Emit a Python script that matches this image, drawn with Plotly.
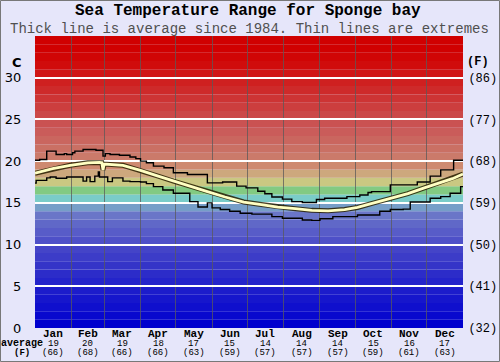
import plotly.graph_objects as go

# ---------------- data ----------------
months = ["Jan", "Feb", "Mar", "Apr", "May", "Jun", "Jul", "Aug", "Sep", "Oct", "Nov", "Dec"]
month_days = [31, 28, 31, 30, 31, 30, 31, 31, 30, 31, 30, 31]
avg_c_labels = [19, 20, 19, 18, 17, 15, 14, 14, 14, 15, 16, 17]
avg_f_labels = [66, 68, 66, 66, 63, 59, 57, 57, 57, 59, 61, 63]

y_ticks_c = [0, 5, 10, 15, 20, 25, 30]
y_ticks_f = ["(32)", "(41)", "(50)", "(59)", "(68)", "(77)", "(86)"]

# max extreme (day of year where value starts, value in C)
max_day = [0, 4, 10, 18, 25, 27, 32, 34, 41, 52, 58, 60, 64, 72, 81, 86, 90, 95, 101, 110,
           118, 130, 147, 160, 172, 180, 190, 196, 202, 211, 219, 228, 240, 247, 266, 277,
           284, 287, 303, 326, 337, 346, 357, 365]
max_val = [20.1, 20.2, 21.2, 20.8, 20.9, 20.8, 21.0, 21.2, 21.4, 21.3, 20.6, 20.9, 20.8, 20.7,
           20.5, 20.3, 20.0, 19.8, 19.4, 19.2, 18.6, 18.4, 17.4, 17.5, 17.0, 16.8, 16.4, 16.1,
           15.7, 15.45, 15.15, 15.05, 15.4, 15.55, 15.75, 15.95, 16.25, 16.35, 17.15, 17.5,
           18.2, 18.95, 20.1, 20.1]

# min extreme
min_day = [0, 1, 10, 13, 18, 27, 41, 44, 47, 51, 54, 55, 62, 66, 75, 81, 90, 95, 101, 109,
           118, 132, 139, 147, 151, 158, 166, 175, 185, 202, 211, 228, 236, 243, 254, 275,
           294, 303, 314, 320, 337, 346, 354, 363, 365]
min_val = [17.36, 17.7, 18.0, 18.1, 17.95, 18.1, 17.6, 18.1, 17.55, 18.2, 18.7, 18.1, 17.55,
           18.0, 17.6, 17.55, 17.5, 17.3, 16.95, 16.55, 16.15, 15.15, 14.5, 15.0, 14.4, 14.2,
           14.0, 13.75, 13.65, 13.35, 13.15, 12.95, 12.9, 13.1, 13.35, 13.55, 14.0, 14.2,
           14.25, 15.1, 15.55, 15.75, 16.15, 16.95, 16.95]

# average
avg_day = [0, 15, 30, 45, 55, 57, 58, 59, 75, 90, 105, 118, 133, 147, 162, 178, 193, 207,
           222, 236, 250, 264, 275, 289, 303, 318, 332, 345, 356, 365]
avg_val = [18.55, 19.1, 19.5, 19.8, 19.85, 19.8, 18.95, 19.65, 19.5, 18.9, 18.2, 17.6, 17.0,
           16.35, 15.7, 15.1, 14.8, 14.5, 14.3, 14.1, 14.05, 14.2, 14.45, 15.0, 15.5, 16.1,
           16.8, 17.4, 17.9, 18.45]

# ---------------- style ----------------
band_colors = [
    (0, 0, 206), (8, 8, 206), (15, 15, 205), (22, 22, 204), (28, 28, 203),
    (36, 36, 202), (44, 44, 201), (52, 52, 200), (60, 60, 200), (68, 68, 200),
    (78, 80, 200), (88, 92, 200), (96, 104, 200), (106, 118, 200), (118, 158, 200),
    (122, 204, 200), (130, 202, 130), (202, 200, 130), (205, 168, 125), (206, 138, 112),
    (203, 122, 106), (202, 112, 100), (202, 102, 95), (202, 92, 90), (202, 82, 82),
    (203, 72, 72), (204, 62, 62), (205, 52, 52), (206, 42, 42), (207, 32, 32),
    (208, 22, 22), (208, 12, 12), (208, 5, 5), (208, 0, 0), (208, 0, 0)]

W, H = 500, 362
L, R, T, B = 35, 37, 36, 34
PW, PH = W - L - R, H - T - B
YMAX = 35.0


def paper(xpx, ypx):
    return (xpx - L) / PW, (H - B - ypx) / PH


fig = go.Figure()

fig.add_trace(go.Scatter(x=max_day, y=max_val, mode="lines", line=dict(color="black", width=1.4, shape="hv"),
                         hoverinfo="skip", showlegend=False))
fig.add_trace(go.Scatter(x=min_day, y=min_val, mode="lines", line=dict(color="black", width=1.4, shape="hv"),
                         hoverinfo="skip", showlegend=False))
fig.add_trace(go.Scatter(x=avg_day, y=avg_val, mode="lines", line=dict(color="rgba(40,30,0,0.85)", width=5),
                         hoverinfo="skip", showlegend=False))
fig.add_trace(go.Scatter(x=avg_day, y=avg_val, mode="lines", line=dict(color="rgb(255,255,195)", width=2.8),
                         hoverinfo="skip", showlegend=False))
# invisible trace to activate right axis
fig.add_trace(go.Scatter(x=[0], y=[0], yaxis="y2", mode="markers", marker=dict(opacity=0),
                         hoverinfo="skip", showlegend=False))

shapes = []
for k, c in enumerate(band_colors):
    shapes.append(dict(type="rect", xref="paper", yref="y", x0=0, x1=1, y0=k, y1=k + 1,
                       fillcolor="rgb(%d,%d,%d)" % c, line=dict(width=0), layer="below"))
# outer border
x0p, y0p = paper(0.5, H - 0.5)
x1p, y1p = paper(W - 0.5, 0.5)
shapes.append(dict(type="rect", xref="paper", yref="paper", x0=x0p, x1=x1p, y0=y0p, y1=y1p,
                   line=dict(color="rgb(120,120,120)", width=1), fillcolor="rgba(0,0,0,0)", layer="above"))

boundaries = []
acc = 0
for d in month_days[:-1]:
    acc += d
    boundaries.append(acc)
mids = []
acc = 0
for d in month_days:
    mids.append(acc + d / 2)
    acc += d

annotations = []
mono = "Liberation Mono"


def ann(text, xpx, ypx, size, family=mono, color="black", xdata=None):
    xp, yp = paper(xpx, ypx)
    d = dict(text=text, x=xp if xdata is None else xdata, y=yp, xref="paper" if xdata is None else "x",
             yref="paper", showarrow=False, xanchor="center", yanchor="middle", borderpad=0,
             font=dict(family=family, size=size, color=color))
    annotations.append(d)


ann("<b>Sea Temperature Range for Sponge bay</b>", 248, 11, 16)
ann("Thick line is average since 1984. Thin lines are extremes", 249, 28.5, 14, color="rgb(80,80,80)")
ann("<b>C</b>", 17, 62, 13, family="DejaVu Sans")
ann("<b>(F)</b>", 478, 62, 12)
ann("<b>average</b>", 22, 343, 10)
ann("<b>(F)</b>", 22, 352.5, 9)
for m, mid, c, f in zip(months, mids, avg_c_labels, avg_f_labels):
    ann("<b>%s</b>" % m, 0, 334, 11, xdata=mid)
    ann(str(c), 0, 343.5, 9, xdata=mid)
    ann("(%d)" % f, 0, 352.5, 9, xdata=mid)

fig.update_layout(
    template="none",
    width=W, height=H,
    margin=dict(l=L, r=R, t=T, b=B, pad=0, autoexpand=False),
    paper_bgcolor="rgb(230,230,250)",
    plot_bgcolor="rgb(230,230,250)",
    shapes=shapes,
    annotations=annotations,
    xaxis=dict(range=[0, 365], tickvals=boundaries, ticktext=[""] * len(boundaries), showticklabels=False,
               showgrid=True, gridcolor="rgba(90,90,90,0.75)", gridwidth=1, zeroline=False, ticks="",
               showline=False, fixedrange=True, automargin=False),
    yaxis=dict(range=[0, YMAX], tickvals=y_ticks_c, ticktext=[str(v) for v in y_ticks_c],
               showgrid=True, gridcolor="white", gridwidth=2, zeroline=False, ticks="outside",
               ticklen=10, tickcolor="rgba(0,0,0,0)", showline=False, automargin=False,
               tickfont=dict(family="DejaVu Sans", size=13, color="black"), fixedrange=True),
    yaxis2=dict(range=[0, YMAX], overlaying="y", side="right", tickvals=y_ticks_c, ticktext=y_ticks_f,
                showgrid=False, zeroline=False, ticks="outside", ticklen=2, tickcolor="rgba(0,0,0,0)",
                automargin=False, tickfont=dict(family=mono, size=12, color="black"), fixedrange=True),
    showlegend=False,
)

fig.write_html("out.html", config={"displayModeBar": False},
               post_script="document.body.style.margin='0';document.body.style.overflow='hidden';")
